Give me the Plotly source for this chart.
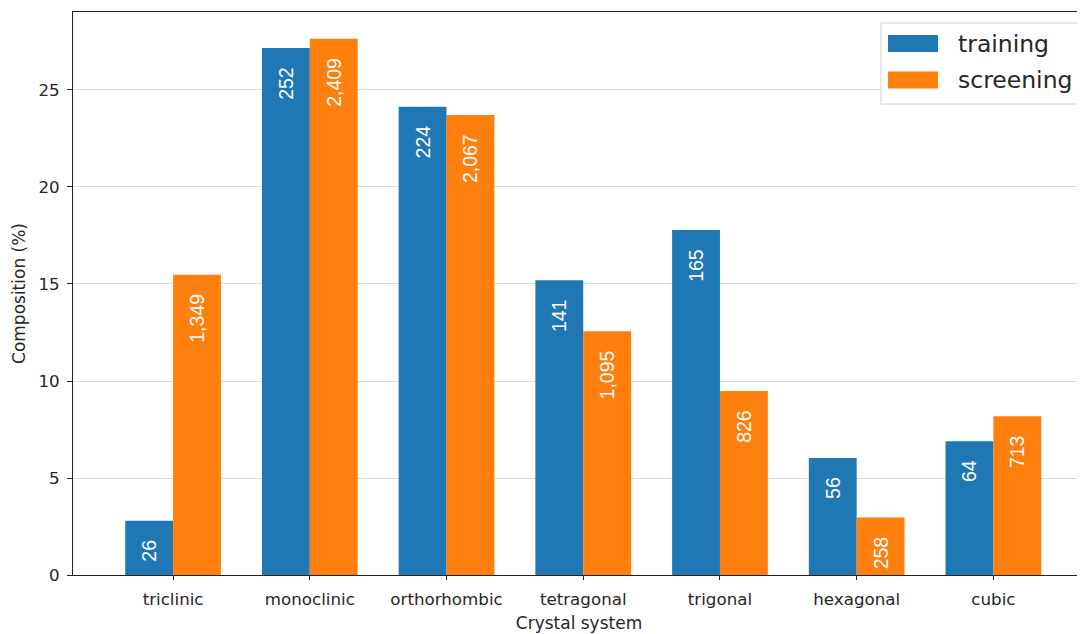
import plotly.graph_objects as go

categories = ["triclinic", "monoclinic", "orthorhombic", "tetragonal", "trigonal", "hexagonal", "cubic"]
series_names = ["training", "screening"]
training_pct = [2.80, 27.16, 24.14, 15.19, 17.78, 6.03, 6.90]
screening_pct = [15.48, 27.64, 23.71, 12.56, 9.48, 2.96, 8.18]
training_counts = [26, 252, 224, 141, 165, 56, 64]
screening_counts = [1349, 2409, 2067, 1095, 826, 258, 713]
y_ticks = [0, 5, 10, 15, 20, 25]
x_title = "Crystal system"
y_title = "Composition (%)"

colors = ["#1f77b4", "#ff7f0e"]

# page has an 8px body margin; compensate so the plot sits where the reference has it
OFF = 8
W, H = 1085 - OFF, 634 - OFF
L, T, B, R = 73 - OFF, 12 - OFF, 59, 0
PW, PH = W - L - R, H - T - B

PAD = "\u00a0" * 3
label_font = dict(family="Liberation Sans, Arial, sans-serif", size=19.5, color="white")
tick_font = dict(family="DejaVu Sans, sans-serif", size=16.7, color="#262626")

fig = go.Figure()
for name, vals, counts, col in [
    (series_names[0], training_pct, training_counts, colors[0]),
    (series_names[1], screening_pct, screening_counts, colors[1]),
]:
    fig.add_trace(go.Bar(
        x=categories, y=vals, name=name,
        marker=dict(color=col, line=dict(width=0)),
        text=[f"{c:,}" + PAD for c in counts],
        textposition="inside", insidetextanchor="end", textangle=-90,
        constraintext="none", textfont=label_font,
        showlegend=False, hoverinfo="x+y+name",
    ))

# page-pixel -> paper coordinate helpers (legend drawing only)
def px_x(p):
    return (p - OFF - L) / PW

def px_y(p):
    return 1 - (p - OFF - T) / PH

shapes = []
annotations = []
x0, x1, y0, y1 = 881, 1084, 23, 104
shapes.append(dict(
    type="rect", xref="paper", yref="paper",
    x0=px_x(x0), x1=px_x(x1), y0=px_y(y1), y1=px_y(y0),
    line=dict(color="#d0d0d0", width=1), fillcolor="rgba(255,255,255,0.85)", layer="above",
))
for i, (name, col) in enumerate(zip(series_names, colors)):
    cy = 43.5 + i * 36.5
    shapes.append(dict(
        type="rect", xref="paper", yref="paper",
        x0=px_x(888), x1=px_x(938), y0=px_y(cy + 8.5), y1=px_y(cy - 8.5),
        line=dict(width=0), fillcolor=col, layer="above",
    ))
    annotations.append(dict(
        xref="paper", yref="paper", x=px_x(956), y=px_y(cy),
        xanchor="left", yanchor="middle", text=name, showarrow=False,
        font=dict(family="DejaVu Sans, sans-serif", size=23.5, color="#262626"),
    ))

fig.update_layout(
    width=W, height=H,
    margin=dict(l=L, r=R, t=T, b=B, pad=0),
    paper_bgcolor="white", plot_bgcolor="white",
    barmode="group", bargap=0.3, bargroupgap=0,
    uniformtext=dict(minsize=19, mode="show"),
    shapes=shapes, annotations=annotations,
    showlegend=False,
    xaxis=dict(
        type="category", range=[-0.732, 6.67],
        showline=True, linecolor="#222", linewidth=1, mirror=True,
        ticks="outside", ticklen=4, tickcolor="#222", tickwidth=1,
        tickfont=tick_font, showgrid=False, zeroline=False, ticklabelstandoff=5,
        title=dict(text=x_title, font=dict(family="DejaVu Sans, sans-serif", size=17, color="#262626"), standoff=9),
    ),
    yaxis=dict(
        range=[0, 29.02], tickvals=y_ticks,
        showline=True, linecolor="#222", linewidth=1,
        ticks="outside", ticklen=5, tickcolor="#222", tickwidth=1,
        tickfont=tick_font, showgrid=True, gridcolor="#dcdcdc", gridwidth=1,
        zeroline=False, ticklabelstandoff=4,
        title=dict(text=y_title, font=dict(family="DejaVu Sans, sans-serif", size=17, color="#262626"), standoff=8),
    ),
)

fig.write_html("out.html")
